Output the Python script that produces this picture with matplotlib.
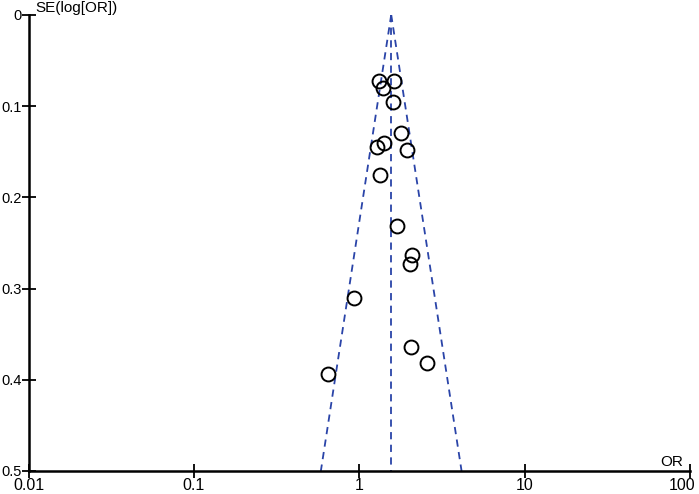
import numpy as np
import matplotlib
matplotlib.use("Agg")
import matplotlib.pyplot as plt
from matplotlib.transforms import ScaledTranslation

plt.rcParams['font.family'] = ['Liberation Sans', 'DejaVu Sans']

# study estimates
odds_ratio = [1.32, 1.63, 1.40, 1.60, 1.79, 1.42, 1.28, 1.95,
              1.34, 1.70, 2.09, 2.03, 0.93, 2.06, 2.58, 0.65]
se_log_or = [0.072, 0.073, 0.080, 0.096, 0.130, 0.140, 0.145, 0.148,
             0.176, 0.232, 0.263, 0.273, 0.310, 0.364, 0.382, 0.394]
pooled_or = 1.56

x_ticks = [0.01, 0.1, 1, 10, 100]
x_labels = ['0.01', '0.1', '1', '10', '100']
y_ticks = [0, 0.1, 0.2, 0.3, 0.4, 0.5]
y_labels = ['0', '0.1', '0.2', '0.3', '0.4', '0.5']

fig = plt.figure(figsize=(6.99, 4.94), dpi=100)
ax = fig.add_axes([0.041, 0.0466, 0.946, 0.9234])

blue = '#2a44a8'
dash = (0, (4, 3))
se_line = np.array([0, 0.5])
ax.plot([pooled_or, pooled_or], se_line, color=blue, lw=1.3, ls=dash)
ax.plot(np.exp(np.log(pooled_or) - 1.96 * se_line), se_line, color=blue, lw=1.3, ls=dash)
ax.plot(np.exp(np.log(pooled_or) + 1.96 * se_line), se_line, color=blue, lw=1.3, ls=dash)

ax.plot(odds_ratio, se_log_or, 'o', ms=10, mfc='none', mec='black', mew=1.4)

ax.set_xscale('log')
ax.set_xlim(0.01, 100)
ax.set_ylim(0.5, 0)
ax.set_xticks(x_ticks)
ax.set_xticklabels(x_labels)
ax.minorticks_off()
ax.set_yticks(y_ticks)
ax.set_yticklabels(y_labels)

for side in ['top', 'right']:
    ax.spines[side].set_visible(False)
for side in ['left', 'bottom']:
    ax.spines[side].set_linewidth(1.8)
ax.tick_params(direction='inout', length=10, width=1.3, pad=0)
ax.tick_params(axis='x', labelsize=11.5)
ax.tick_params(axis='y', labelsize=10.5)

# nudge the last x label left so it stays inside the figure
last = ax.get_xticklabels()[-1]
last.set_transform(last.get_transform() + ScaledTranslation(-8 / 100, 0, fig.dpi_scale_trans))

ax.text(0.01, 1.0, 'SE(log[OR])', transform=ax.transAxes, fontsize=11,
        ha='left', va='bottom')
ax.text(0.99, 0.005, 'OR', transform=ax.transAxes, fontsize=11,
        ha='right', va='bottom')

fig.savefig('out.png', dpi=100)
